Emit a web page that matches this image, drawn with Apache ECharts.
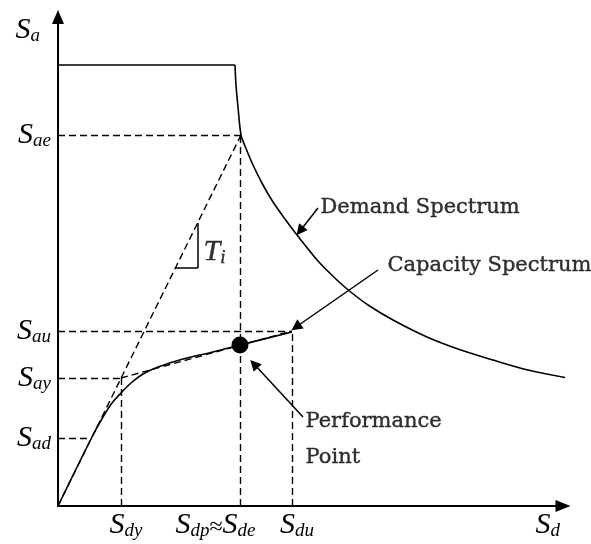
<!DOCTYPE html>
<html><head><meta charset="utf-8">
<script src="https://cdn.jsdelivr.net/npm/echarts@6/dist/echarts.min.js"></script>
<style>html,body{margin:0;padding:0;background:#fff}#c{width:591px;height:544px}</style>
</head><body><div id="c"></div>
<script>
// ---- data (arbitrary Sd / Sa units) ----
const demandPlateau = [[0,441],[177,441]];
const demandCurve = [[177,441],[178,421],[180,399],[183,371],[187,360],[195,341],[205,321],[215,304],[227,287],[239,271],[260,245],[280,225],[294,213],[310,201],[335,186],[369,169],[400,157],[435,146],[470,136],[510,128]];
const capacityCurve = [[0,0],[34,69],[45,89],[54,103],[63,113],[73,123],[85,132],[100,139],[125,147],[155,154],[182,161],[234,174]];
const initialStiffness = [[0,0],[183,371]];
const bilinearPost = [[63,128],[234,175]];
const performancePoint = [[182,161]];
const guideHorizontal = [[371,183],[175,234],[128,63],[68,34]]; // [Sa level, Sd extent]
const guideVertical = [[63,128],[182,371],[234,175]];            // [Sd level, Sa extent]
const periodTriangle = [[[117,238],[140,238]],[[140,238],[140,283]]];
const yTickValues = [68,128,175,371];
const yTickLabels = ['S_ad','S_ay','S_au','S_ae'];
const xTickValues = [63,182,234];
const xTickLabels = ['S_dy','S_dp≈S_de','S_du'];
const axisNames = ['S_d','S_a'];
const calloutText = ['Demand Spectrum','Capacity Spectrum','Performance\nPoint','T_i'];
const calloutAnchor = [[262,298],[329,240],[247,66],[145,254]];
const calloutArrows = [[[260,298],[242,275]],[[320,236],[238,179]],[[245,89],[196,142]]];

// ---- rendering ----
function toRich(s){
  return s.replace(/([ST])_([a-z]+)/g,'{s|$1}{sub|$2}').replace('≈','{op|≈}');
}
const rich = {
  s:{fontFamily:'Liberation Serif',fontStyle:'italic',fontSize:30,lineHeight:30,verticalAlign:'bottom',color:'#000'},
  sub:{fontFamily:'Liberation Serif',fontStyle:'italic',fontSize:19,lineHeight:19,verticalAlign:'bottom',color:'#000'},
  op:{fontFamily:'Liberation Serif',fontSize:24,lineHeight:26,verticalAlign:'bottom',color:'#000'},
  padL:{width:10,fontSize:10},
  padR:{width:49,fontSize:10}
};
const black='#000';
const dash=[7,4];
function xLabel(v){
  const i=xTickValues.indexOf(v);
  const r=toRich(xTickLabels[i]);
  return xTickLabels[i].indexOf('≈')>=0 ? r+'{padR| }' : '{padL| }'+r;
}
const xMid = xTickValues.filter((v,i)=>xTickLabels[i].indexOf('≈')>=0);
const xSide = xTickValues.filter((v,i)=>xTickLabels[i].indexOf('≈')<0);
const chart = echarts.init(document.getElementById('c'),null,{renderer:'canvas'});
chart.setOption({
  animation:false,
  backgroundColor:'#fff',
  grid:{left:58,right:28,top:17,bottom:38,outerBoundsMode:'none'},
  xAxis:[{type:'value',min:0,max:505,
    name:toRich(axisNames[0]),nameLocation:'end',nameGap:-3,
    nameTextStyle:{align:'right',verticalAlign:'top',padding:[4,0,0,0],rich:rich},
    axisLine:{show:true,onZero:false,symbol:['none','triangle'],symbolSize:[12,15],lineStyle:{color:black,width:2}},
    axisTick:{show:false},splitLine:{show:false},
    axisLabel:{show:true,customValues:xSide,margin:4,align:'center',verticalAlign:'top',hideOverlap:false,rich:rich,formatter:xLabel}
  },{type:'value',min:0,max:505,position:'bottom',
    axisLine:{show:false},axisTick:{show:false},splitLine:{show:false},
    axisLabel:{show:true,customValues:xMid,margin:4,align:'center',verticalAlign:'top',hideOverlap:false,rich:rich,formatter:xLabel}
  }],
  yAxis:{type:'value',min:0,max:489,
    name:toRich(axisNames[1]),nameLocation:'end',nameGap:-13,
    nameTextStyle:{align:'right',verticalAlign:'middle',padding:[0,18,0,0],rich:rich},
    axisLine:{show:true,onZero:false,symbol:['none','triangle'],symbolSize:[12,14],lineStyle:{color:black,width:2}},
    axisTick:{show:false},splitLine:{show:false},
    axisLabel:{show:true,customValues:yTickValues,margin:7,rich:rich,
      formatter:function(v){return toRich(yTickLabels[yTickValues.indexOf(v)]);}}
  },
  series:[
    {type:'line',data:demandPlateau,showSymbol:false,symbol:'none',lineStyle:{color:black,width:1.6},silent:true},
    {type:'line',data:demandCurve,smooth:0.3,showSymbol:false,symbol:'none',lineStyle:{color:black,width:1.6},silent:true},
    {type:'line',data:capacityCurve,smooth:0.3,showSymbol:false,symbol:'none',lineStyle:{color:black,width:1.6},silent:true},
    {type:'line',data:initialStiffness,showSymbol:false,symbol:'none',lineStyle:{color:black,width:1.4,type:dash},silent:true},
    {type:'line',data:bilinearPost,showSymbol:false,symbol:'none',lineStyle:{color:black,width:1.4,type:dash},silent:true},
    {type:'lines',coordinateSystem:'cartesian2d',silent:true,
      data:guideHorizontal.map(g=>({coords:[[0,g[0]],[g[1],g[0]]]})).concat(guideVertical.map(g=>({coords:[[g[0],0],[g[0],g[1]]]}))),
      lineStyle:{color:black,width:1.4,type:dash,opacity:1,curveness:0}},
    {type:'lines',coordinateSystem:'cartesian2d',silent:true,
      data:periodTriangle.map(c=>({coords:c})),
      lineStyle:{color:black,width:1.5,opacity:1,curveness:0}},
    {type:'lines',coordinateSystem:'cartesian2d',silent:true,
      symbol:['none','triangle'],symbolSize:11,
      data:calloutArrows.map(c=>({coords:c})),
      lineStyle:{color:black,width:1.5,opacity:1,curveness:0}},
    {type:'scatter',data:performancePoint,symbol:'circle',symbolSize:17,itemStyle:{color:black,opacity:1},silent:true},
    {type:'scatter',silent:true,symbol:'circle',symbolSize:1,itemStyle:{color:'rgba(0,0,0,0)'},
      data:calloutAnchor.map((p,i)=>({value:p,label:{show:true,position:'right',distance:0,align:'left',verticalAlign:'middle',
        formatter:calloutText[i].indexOf('_')>=0?toRich(calloutText[i]):calloutText[i],
        fontFamily:'DejaVu Serif',fontSize:21,lineHeight:36,color:black,textBorderColor:black,textBorderWidth:0.4,rich:rich}}))}
  ]
});
</script></body></html>
